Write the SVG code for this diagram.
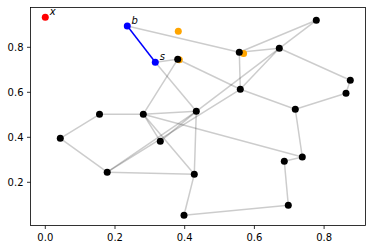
<svg xmlns="http://www.w3.org/2000/svg" width="372" height="249" viewBox="0 0 372 249">
<style>
.e{stroke:#000;stroke-opacity:0.2;stroke-width:1.5;fill:none}
.eb{stroke:#0000ff;stroke-width:1.5}
.k{fill:#000}
.o{fill:#ffa500}
.bl{fill:#0000ff}
.r{fill:#ff0000}
.t{font-family:"DejaVu Sans",sans-serif;font-size:10px;fill:#000}
.lab{font-family:"DejaVu Sans",sans-serif;font-size:10px;font-style:italic;fill:#000}
.tick{stroke:#000;stroke-width:0.8}
</style>
<rect width="372" height="249" fill="#fff"/>
<g id="axes">
<g class="tick">
<line x1="45.3" y1="225.5" x2="45.3" y2="229"/>
<line x1="115" y1="225.5" x2="115" y2="229"/>
<line x1="184.7" y1="225.5" x2="184.7" y2="229"/>
<line x1="254.4" y1="225.5" x2="254.4" y2="229"/>
<line x1="324.1" y1="225.5" x2="324.1" y2="229"/>
<line x1="30.5" y1="182.3" x2="27" y2="182.3"/>
<line x1="30.5" y1="137.3" x2="27" y2="137.3"/>
<line x1="30.5" y1="92.3" x2="27" y2="92.3"/>
<line x1="30.5" y1="47.3" x2="27" y2="47.3"/>
</g>
<g class="t" text-anchor="middle">
<text x="45.3" y="240.5">0.0</text>
<text x="115" y="240.5">0.2</text>
<text x="184.7" y="240.5">0.4</text>
<text x="254.4" y="240.5">0.6</text>
<text x="324.1" y="240.5">0.8</text>
</g>
<g class="t" text-anchor="end">
<text x="23.5" y="185.9">0.2</text>
<text x="23.5" y="140.9">0.4</text>
<text x="23.5" y="95.9">0.6</text>
<text x="23.5" y="50.9">0.8</text>
</g>
</g>
<g id="connectors">
<line class="e" x1="127.3" y1="26" x2="239.3" y2="52.3"/>
<line class="e" x1="155.3" y1="62.3" x2="177.7" y2="59.3"/>
<line class="e" x1="155.3" y1="62.3" x2="196.3" y2="111.3"/>
<line class="e" x1="177.7" y1="59.3" x2="143.3" y2="114.2"/>
<line class="e" x1="177.7" y1="59.3" x2="240.3" y2="89.3"/>
<line class="e" x1="240.3" y1="89.3" x2="295.3" y2="109.3"/>
<line class="e" x1="239.3" y1="52.3" x2="316.3" y2="20.3"/>
<line class="e" x1="239.3" y1="52.3" x2="279.3" y2="48.3"/>
<line class="e" x1="239.3" y1="52.3" x2="240.3" y2="89.3"/>
<line class="e" x1="279.3" y1="48.3" x2="316.3" y2="20.3"/>
<line class="e" x1="279.3" y1="48.3" x2="350.3" y2="80.3"/>
<line class="e" x1="279.3" y1="48.3" x2="240.3" y2="89.3"/>
<line class="e" x1="279.3" y1="48.3" x2="196.3" y2="111.3"/>
<line class="e" x1="350.3" y1="80.3" x2="346" y2="93.3"/>
<line class="e" x1="346" y1="93.3" x2="295.3" y2="109.3"/>
<line class="e" x1="295.3" y1="109.3" x2="302.3" y2="157"/>
<line class="e" x1="302.3" y1="157" x2="284.3" y2="161.3"/>
<line class="e" x1="284.3" y1="161.3" x2="288.3" y2="205.3"/>
<line class="e" x1="288.3" y1="205.3" x2="184" y2="215.3"/>
<line class="e" x1="184" y1="215.3" x2="194.3" y2="174.2"/>
<line class="e" x1="194.3" y1="174.2" x2="196.3" y2="111.3"/>
<line class="e" x1="194.3" y1="174.2" x2="107.2" y2="172.2"/>
<line class="e" x1="194.3" y1="174.2" x2="143.3" y2="114.2"/>
<line class="e" x1="143.3" y1="114.2" x2="160.3" y2="141.3"/>
<line class="e" x1="160.3" y1="141.3" x2="196.3" y2="111.3"/>
<line class="e" x1="107.2" y1="172.2" x2="196.3" y2="111.3"/>
<line class="e" x1="107.2" y1="172.2" x2="240.3" y2="89.3"/>
<line class="e" x1="107.2" y1="172.2" x2="60.3" y2="138.3"/>
<line class="e" x1="60.3" y1="138.3" x2="99.5" y2="114.3"/>
<line class="e" x1="99.5" y1="114.3" x2="143.3" y2="114.2"/>
<line class="e" x1="143.3" y1="114.2" x2="196.3" y2="111.3"/>
<line class="e" x1="143.3" y1="114.2" x2="302.3" y2="157"/>
<line class="eb" x1="127.3" y1="26" x2="155.3" y2="62.3"/>
</g>
<g id="node-orange1"><circle class="o" cx="178.3" cy="31.3" r="3.5"/></g>
<g id="node-orange2"><circle class="o" cx="179.3" cy="59.8" r="3.5"/></g>
<g id="node-orange3"><circle class="o" cx="243.6" cy="53.6" r="3.5"/></g>
<g id="node-x"><circle class="r" cx="45.3" cy="17.3" r="3.5"/><text class="lab" x="49.8" y="14.7">x</text></g>
<g id="node-b"><circle class="bl" cx="127.3" cy="26" r="3.5"/><text class="lab" x="131.5" y="24">b</text></g>
<g id="node-s"><circle class="bl" cx="155.3" cy="62.3" r="3.5"/><text class="lab" x="159.8" y="60">s</text></g>
<g id="node-A"><circle class="k" cx="177.7" cy="59.3" r="3.5"/></g>
<g id="node-B"><circle class="k" cx="239.3" cy="52.3" r="3.5"/></g>
<g id="node-C"><circle class="k" cx="316.3" cy="20.3" r="3.5"/></g>
<g id="node-D"><circle class="k" cx="279.3" cy="48.3" r="3.5"/></g>
<g id="node-E"><circle class="k" cx="350.3" cy="80.3" r="3.5"/></g>
<g id="node-F"><circle class="k" cx="346" cy="93.3" r="3.5"/></g>
<g id="node-G"><circle class="k" cx="240.3" cy="89.3" r="3.5"/></g>
<g id="node-H"><circle class="k" cx="295.3" cy="109.3" r="3.5"/></g>
<g id="node-I"><circle class="k" cx="196.3" cy="111.3" r="3.5"/></g>
<g id="node-J"><circle class="k" cx="143.3" cy="114.2" r="3.5"/></g>
<g id="node-K"><circle class="k" cx="99.5" cy="114.3" r="3.5"/></g>
<g id="node-L"><circle class="k" cx="60.3" cy="138.3" r="3.5"/></g>
<g id="node-M"><circle class="k" cx="160.3" cy="141.3" r="3.5"/></g>
<g id="node-N"><circle class="k" cx="107.2" cy="172.2" r="3.5"/></g>
<g id="node-O"><circle class="k" cx="194.3" cy="174.2" r="3.5"/></g>
<g id="node-P"><circle class="k" cx="302.3" cy="157" r="3.5"/></g>
<g id="node-Q"><circle class="k" cx="284.3" cy="161.3" r="3.5"/></g>
<g id="node-R"><circle class="k" cx="288.3" cy="205.3" r="3.5"/></g>
<g id="node-S"><circle class="k" cx="184" cy="215.3" r="3.5"/></g>
<rect x="30.5" y="7.5" width="335" height="218" fill="none" stroke="#000" stroke-width="0.8"/>
</svg>
